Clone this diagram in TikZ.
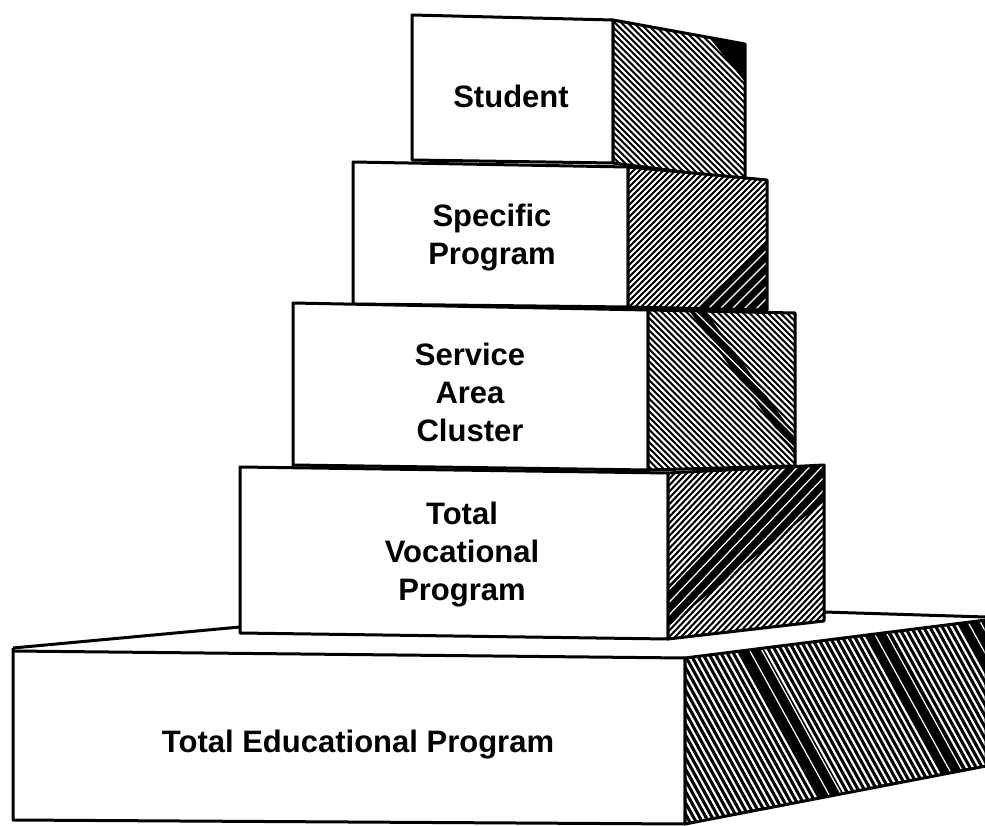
\documentclass[tikz,border=0pt]{standalone}
\usepackage{fontspec}
\setmainfont{Liberation Sans}

% Parallel white strokes over a black face.
% #1,#2: x range  #3,#4: y range  #5: horizontal spacing
% #6: dx per unit dy (positive = falling to the right)  #7: stroke width
\newcommand\hatchlines[7]{%
  \pgfmathsetmacro\hA{#1-abs(#6)*(#4-#3)-#5}%
  \pgfmathsetmacro\hB{\hA+#5}%
  \pgfmathsetmacro\hC{#2+abs(#6)*(#4-#3)+#5}%
  \foreach \hx in {\hA,\hB,...,\hC}{%
    \draw[white,line width=#7] (\hx,#3) -- ++({#6*(#4-#3)},{#4-#3});%
  }%
}

\tikzset{
  edge/.style={line width=3pt, line join=round},
  front/.style={edge, fill=white},
  label/.style={font=\bfseries\fontsize{31}{38}\selectfont, align=center, inner sep=0pt}
}

\begin{document}
\begin{tikzpicture}[x=1pt,y=-1pt]
\fill[white] (0,0) rectangle (985,826);
\useasboundingbox (0,0) rectangle (985,826);

% ---------- corners ----------
% base
\coordinate (b1) at (13,648);
\coordinate (b2) at (240,627);
\coordinate (b3) at (824,612);
\coordinate (b4) at (986,617);
\coordinate (f1) at (13,651);
\coordinate (f2) at (685,658);
\coordinate (f3) at (685,824);
\coordinate (f4) at (13,820);
\coordinate (f5) at (986,620);
\coordinate (f6) at (986,766);
% student
\coordinate (s1) at (412,15);
\coordinate (s2) at (613,20);
\coordinate (s3) at (613,163);
\coordinate (s4) at (412,160);
\coordinate (s5) at (745,44);
\coordinate (s6) at (745,180);
% specific program
\coordinate (p1) at (353,162);
\coordinate (p2) at (628,167);
\coordinate (p3) at (628,307);
\coordinate (p4) at (353,304);
\coordinate (p5) at (767,180);
\coordinate (p6) at (767,310);
% service area cluster
\coordinate (c1) at (293,303);
\coordinate (c2) at (648,310);
\coordinate (c3) at (648,470);
\coordinate (c4) at (293,465);
\coordinate (c5) at (795,313);
\coordinate (c6) at (795,466);
% total vocational program
\coordinate (v1) at (240,467);
\coordinate (v2) at (668,473);
\coordinate (v3) at (668,639);
\coordinate (v4) at (240,633);
\coordinate (v5) at (824,465);
\coordinate (v6) at (824,621);

% ---------- base slab ----------
\fill[white] (b1) -- (b2) -- (b3) -- (b4) -- (f5) -- (f2) -- (f1) -- cycle;
\draw[edge] (b1) -- (b2);
\draw[edge] (b3) -- (b4);
\draw[front] (b1) -- (f4) -- (f3) -- (f2) -- (f1);
\begin{scope}
  \clip (f2) -- (f5) -- (f6) -- (f3) -- cycle;
  \fill[black] (680,600) rectangle (990,830);
  \hatchlines{685}{986}{600}{830}{6.2}{0.55}{2.1}
  % darker streaks
  \foreach \xa/\xb in {712/736, 846/872, 946/978}{
    \begin{scope}
      \clip (\xa,600) -- (\xb,600) -- ({\xb+126.5},830) -- ({\xa+126.5},830) -- cycle;
      \fill[black] (680,600) rectangle (990,830);
      \hatchlines{\xa}{\xb}{600}{830}{12.4}{0.55}{1.2}
    \end{scope}
  }
\end{scope}
\draw[edge] (f2) -- (f5) -- (f6) -- (f3) -- cycle;
\node[label] (base) at (358,745) {Total Educational Program};

% ---------- student ----------
\draw[front] (s1) -- (s2) -- (s3) -- (s4) -- cycle;
\begin{scope}
  \clip (s2) -- (s5) -- (s6) -- (s3) -- cycle;
  \fill[black] (600,10) rectangle (760,190);
  \hatchlines{613}{745}{15}{185}{6.2}{1}{2.1}
  \fill[black] (708,36) -- (750,42) -- (750,88) -- cycle;
\end{scope}
\draw[edge] (s2) -- (s5) -- (s6) -- (s3) -- cycle;
\node[label] (student) at (511,96) {Student};

% ---------- specific program ----------
\draw[front] (p1) -- (p2) -- (p3) -- (p4) -- cycle;
\begin{scope}
  \clip (p2) -- (p5) -- (p6) -- (p3) -- cycle;
  \fill[black] (620,160) rectangle (775,315);
  \hatchlines{628}{767}{160}{315}{6}{-1}{2}
  \begin{scope}
    \clip (692,312) -- (770,240) -- (770,312) -- cycle;
    \fill[black] (620,160) rectangle (775,315);
    \hatchlines{628}{767}{160}{315}{12}{-1}{1.2}
  \end{scope}
\end{scope}
\draw[edge] (p2) -- (p5) -- (p6) -- (p3) -- cycle;
\node[label] (specific) at (492,238) {Specific\\Program};

% ---------- service area cluster ----------
\draw[front] (c1) -- (c2) -- (c3) -- (c4) -- cycle;
\begin{scope}
  \clip (c2) -- (c5) -- (c6) -- (c3) -- cycle;
  \fill[black] (640,300) rectangle (800,475);
  \hatchlines{648}{795}{300}{475}{6.2}{1}{2.1}
  \begin{scope}
    \clip (690,312) -- (706,312) -- (797,438) -- (797,458) -- cycle;
    \fill[black] (640,300) rectangle (800,475);
    \hatchlines{648}{795}{300}{475}{12.4}{1}{1.2}
  \end{scope}
\end{scope}
\draw[edge] (c2) -- (c5) -- (c6) -- (c3) -- cycle;
\node[label] (service) at (470,392) {Service\\Area\\Cluster};

% ---------- total vocational program ----------
\draw[front] (v1) -- (v2) -- (v3) -- (v4) -- cycle;
\begin{scope}
  \clip (v2) -- (v5) -- (v6) -- (v3) -- cycle;
  \fill[black] (660,460) rectangle (830,645);
  \hatchlines{668}{824}{460}{645}{6}{-0.95}{2}
  \begin{scope}
    \clip (666,588) -- (666,628) -- (826,500) -- (826,462) -- (792,462) -- cycle;
    \fill[black] (660,460) rectangle (830,645);
    \hatchlines{668}{824}{460}{645}{12}{-0.95}{1.2}
  \end{scope}
\end{scope}
\draw[edge] (v2) -- (v5) -- (v6) -- (v3) -- cycle;
\node[label] (vocational) at (462,555) {Total\\Vocational\\Program};
\end{tikzpicture}
\end{document}
